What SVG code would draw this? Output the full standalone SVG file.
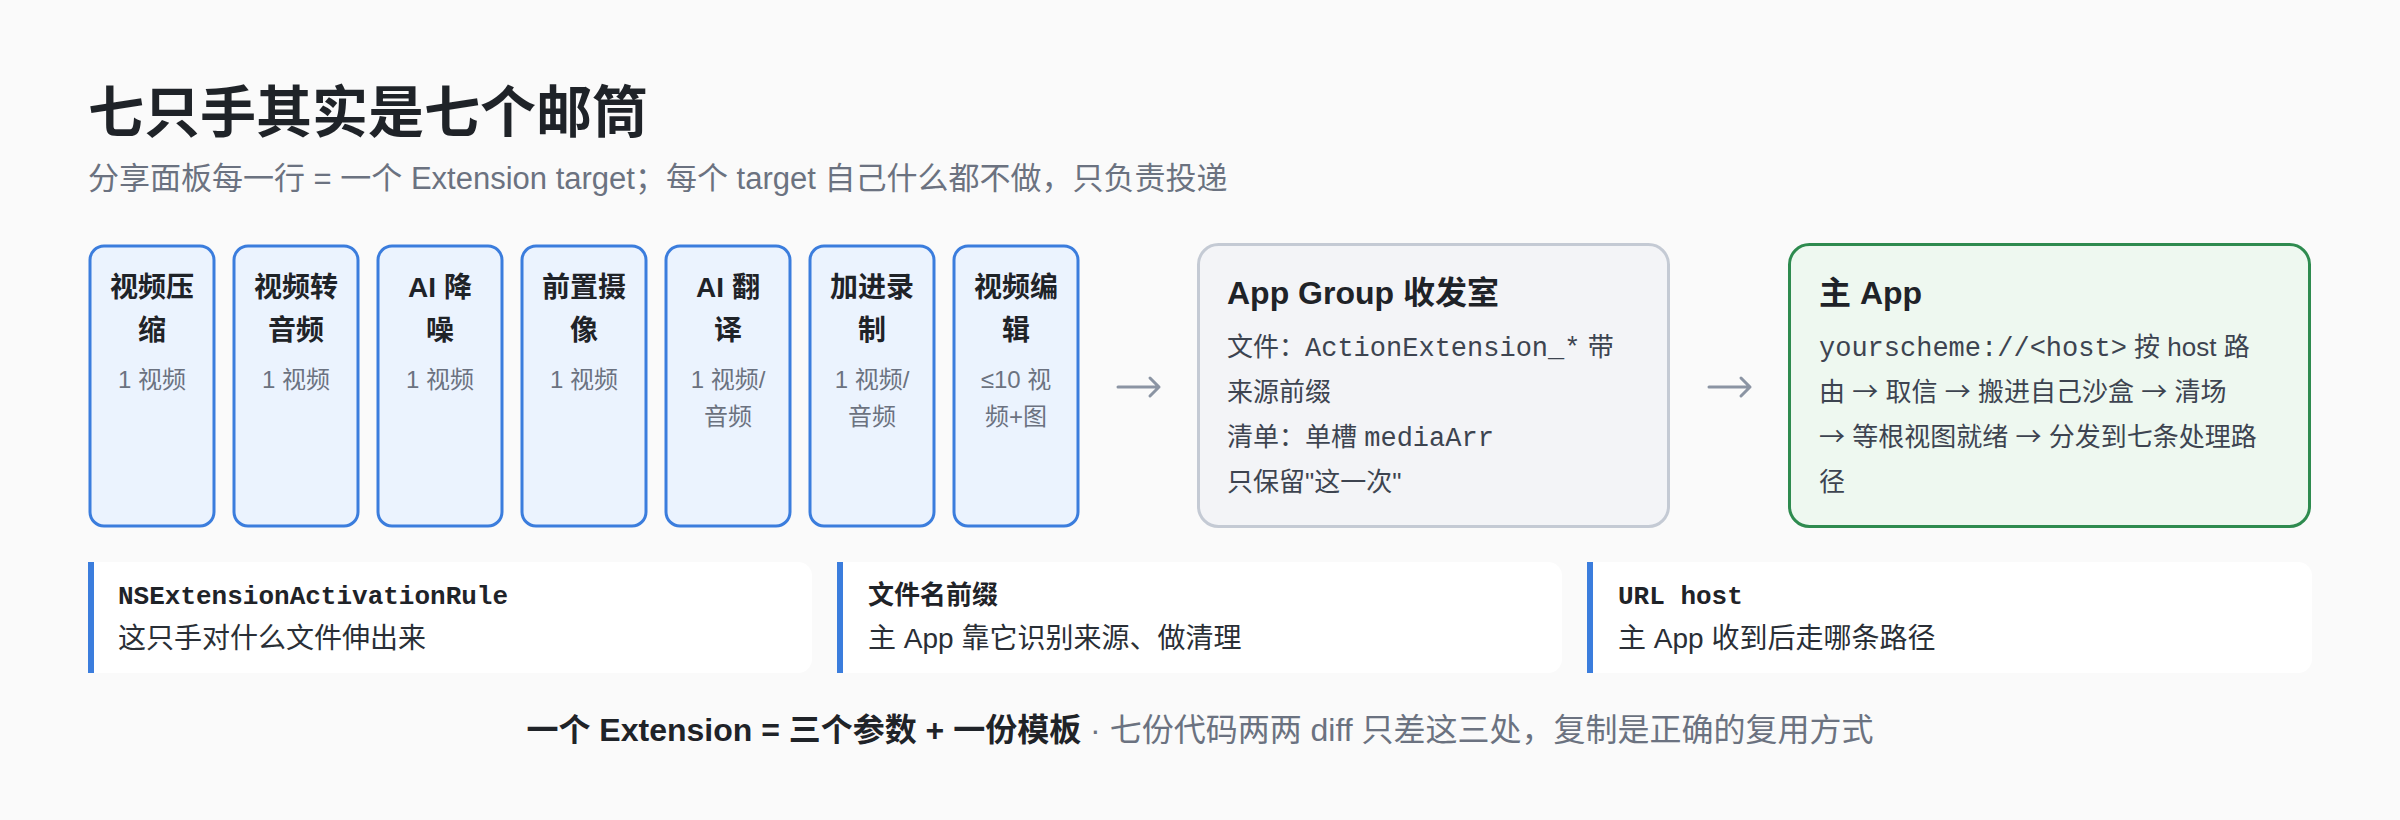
<svg xmlns="http://www.w3.org/2000/svg" width="2400" height="820" viewBox="0 0 2400 820">
<defs>
<style>
text{font-family:"Liberation Sans","Noto Sans CJK SC",sans-serif;}
.mono{font-family:"Liberation Mono","Noto Sans CJK SC",monospace;}
.cjk{font-family:"Noto Sans CJK SC",sans-serif;}
.title{font-size:56px;font-weight:700;fill:#1f2328;}
.sub{font-size:31px;fill:#6b7280;}
.ext rect{fill:#ebf3fe;stroke:#3b7ddd;stroke-width:3;}
.ext .h{font-size:28px;font-weight:700;fill:#1f2328;text-anchor:middle;}
.ext .s{font-size:24px;fill:#6b7280;text-anchor:middle;}
.bh{font-size:32px;font-weight:700;fill:#1f2328;}
.bt{font-size:26px;fill:#3d4450;}
.bt .mono{font-size:27px;}
.card .bg{fill:#ffffff;}
.card .bar{fill:#3b7ddd;}
.ct{font-size:26px;font-weight:700;fill:#1f2328;}
.cd{font-size:28px;fill:#2a2f36;}
.conn path{fill:none;stroke:#8b94a3;stroke-width:3;stroke-linecap:round;stroke-linejoin:round;}
.foot{font-size:32px;text-anchor:middle;}
</style>
</defs>
<rect x="0" y="0" width="2400" height="820" fill="#fafafa"/>
<g id="header">
<text class="title" x="88" y="132">七只手其实是七个邮筒</text>
<text class="sub" x="88" y="189">分享面板每一行 = 一个 Extension target；每个 target 自己什么都不做，只负责投递</text>
</g>
<g id="ext1" class="ext"><rect x="90" y="246" width="124" height="280" rx="14"/><text class="h" x="152" y="297">视频压</text><text class="h" x="152" y="340">缩</text><text class="s" x="152" y="388">1 视频</text></g>
<g id="ext2" class="ext"><rect x="234" y="246" width="124" height="280" rx="14"/><text class="h" x="296" y="297">视频转</text><text class="h" x="296" y="340">音频</text><text class="s" x="296" y="388">1 视频</text></g>
<g id="ext3" class="ext"><rect x="378" y="246" width="124" height="280" rx="14"/><text class="h" x="440" y="297">AI 降</text><text class="h" x="440" y="340">噪</text><text class="s" x="440" y="388">1 视频</text></g>
<g id="ext4" class="ext"><rect x="522" y="246" width="124" height="280" rx="14"/><text class="h" x="584" y="297">前置摄</text><text class="h" x="584" y="340">像</text><text class="s" x="584" y="388">1 视频</text></g>
<g id="ext5" class="ext"><rect x="666" y="246" width="124" height="280" rx="14"/><text class="h" x="728" y="297">AI 翻</text><text class="h" x="728" y="340">译</text><text class="s" x="728" y="388">1 视频/</text><text class="s" x="728" y="425">音频</text></g>
<g id="ext6" class="ext"><rect x="810" y="246" width="124" height="280" rx="14"/><text class="h" x="872" y="297">加进录</text><text class="h" x="872" y="340">制</text><text class="s" x="872" y="388">1 视频/</text><text class="s" x="872" y="425">音频</text></g>
<g id="ext7" class="ext"><rect x="954" y="246" width="124" height="280" rx="14"/><text class="h" x="1016" y="297">视频编</text><text class="h" x="1016" y="340">辑</text><text class="s" x="1016" y="388">≤10 视</text><text class="s" x="1016" y="425">频+图</text></g>
<g id="appgroup">
<rect x="1198.5" y="244.5" width="470" height="282" rx="20" fill="#f3f4f7" stroke="#c4cad4" stroke-width="3"/>
<text class="bh" x="1227" y="304">App Group 收发室</text>
<text class="bt" x="1227" y="356">文件：<tspan class="mono">ActionExtension_*</tspan> 带</text>
<text class="bt" x="1227" y="401">来源前缀</text>
<text class="bt" x="1227" y="446">清单：单槽 <tspan class="mono">mediaArr</tspan></text>
<text class="bt" x="1227" y="491">只保留"这一次"</text>
</g>
<g id="mainapp">
<rect x="1789.5" y="244.5" width="520" height="282" rx="20" fill="#eef8f0" stroke="#2e8b4f" stroke-width="3"/>
<text class="bh" x="1819" y="304">主 App</text>
<text class="bt" x="1819" y="356"><tspan class="mono">yourscheme://&lt;host&gt;</tspan> 按 host 路</text>
<text class="bt" x="1819" y="401">由 <tspan class="cjk">→</tspan> 取信 <tspan class="cjk">→</tspan> 搬进自己沙盒 <tspan class="cjk">→</tspan> 清场</text>
<text class="bt" x="1819" y="446"><tspan class="cjk">→</tspan> 等根视图就绪 <tspan class="cjk">→</tspan> 分发到七条处理路</text>
<text class="bt" x="1819" y="491">径</text>
</g>
<g id="connectors" class="conn">
<path d="M1118,387 H1159 M1150,378 L1159,387 L1150,396"/>
<path d="M1709,387 H1750 M1741,378 L1750,387 L1741,396"/>
</g>
<g id="card1" class="card">
<path class="bg" d="M88,562 H798 A14,14 0 0 1 812,576 V659 A14,14 0 0 1 798,673 H88 Z"/>
<rect class="bar" x="88" y="562" width="6" height="111"/>
<text class="ct mono" x="118" y="604">NSExtensionActivationRule</text>
<text class="cd" x="118" y="648">这只手对什么文件伸出来</text>
</g>
<g id="card2" class="card">
<path class="bg" d="M837,562 H1548 A14,14 0 0 1 1562,576 V659 A14,14 0 0 1 1548,673 H837 Z"/>
<rect class="bar" x="837" y="562" width="6" height="111"/>
<text class="ct" x="868" y="604">文件名前缀</text>
<text class="cd" x="868" y="648">主 App 靠它识别来源、做清理</text>
</g>
<g id="card3" class="card">
<path class="bg" d="M1587,562 H2298 A14,14 0 0 1 2312,576 V659 A14,14 0 0 1 2298,673 H1587 Z"/>
<rect class="bar" x="1587" y="562" width="6" height="111"/>
<text class="ct mono" x="1618" y="604">URL host</text>
<text class="cd" x="1618" y="648">主 App 收到后走哪条路径</text>
</g>
<g id="footer">
<text class="foot" x="1200" y="741"><tspan font-weight="700" fill="#1f2328">一个 Extension = 三个参数 + 一份模板</tspan><tspan fill="#6b7280">  ·  七份代码两两 diff 只差这三处，复制是正确的复用方式</tspan></text>
</g>
</svg>
